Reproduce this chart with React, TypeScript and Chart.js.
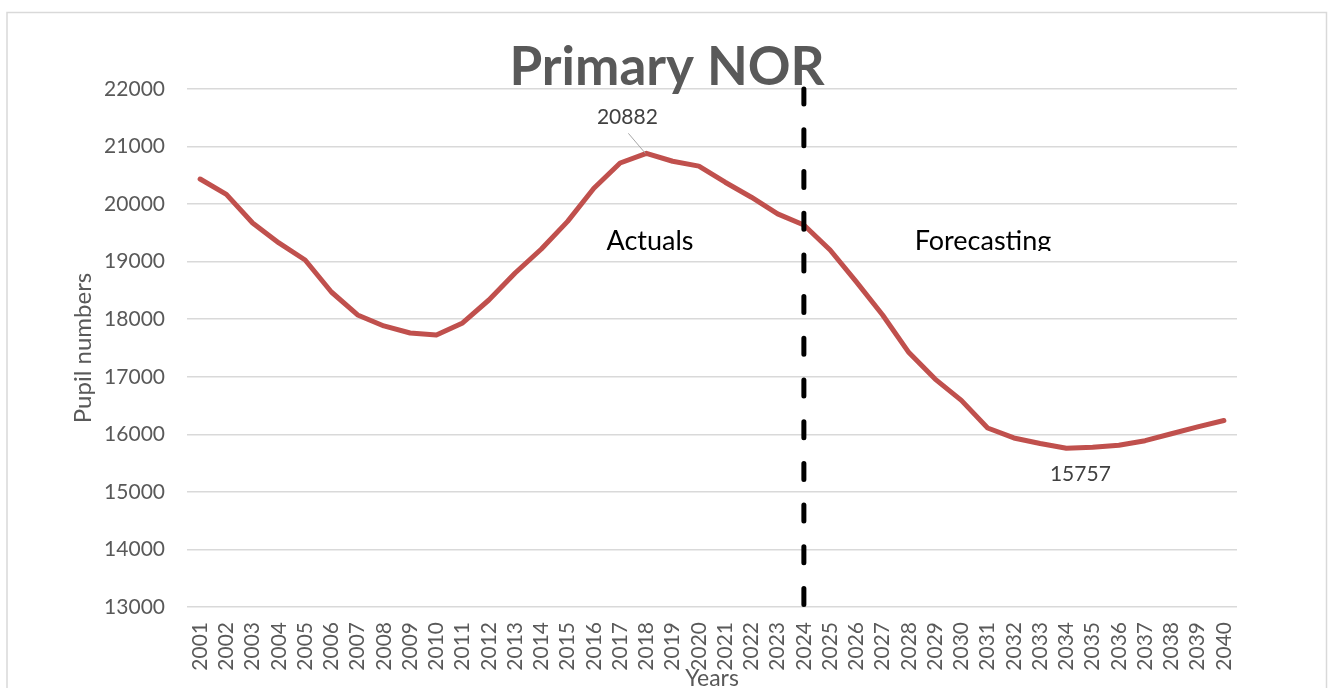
import React, { useEffect, useRef } from "react";
import { Chart, registerables } from "chart.js";

Chart.register(...registerables);

const TITLE = "Primary NOR";
const Y_TITLE = "Pupil numbers";
const X_TITLE = "Years";
const YEARS = [
  "2001", "2002", "2003", "2004", "2005", "2006", "2007", "2008", "2009", "2010",
  "2011", "2012", "2013", "2014", "2015", "2016", "2017", "2018", "2019", "2020",
  "2021", "2022", "2023", "2024", "2025", "2026", "2027", "2028", "2029", "2030",
  "2031", "2032", "2033", "2034", "2035", "2036", "2037", "2038", "2039", "2040",
];
const PUPILS = [
  20436, 20170, 19672, 19325, 19029, 18473, 18074, 17883, 17761, 17726,
  17935, 18334, 18803, 19220, 19700, 20275, 20714, 20882, 20745, 20660,
  20380, 20120, 19830, 19637, 19203, 18650, 18074, 17420, 16960, 16590,
  16110, 15937, 15840, 15757, 15775, 15810, 15890, 16010, 16130, 16240,
];
const Y_MIN = 13000;
const Y_MAX = 22000;
const Y_STEP = 1000;
const SPLIT_YEAR = "2024";
const PEAK_YEAR = "2018";
const TROUGH_YEAR = "2034";
const PHASE_LABELS = ["Actuals", "Forecasting"];

const FONT = "Lato, 'Open Sans', sans-serif";
const GREY = "#595959";

const overlayPlugin = {
  id: "overlay",
  beforeDraw(chart: any) {
    const ctx = chart.ctx;
    ctx.save();
    ctx.strokeStyle = "#d9d9d9";
    ctx.lineWidth = 1.5;
    ctx.strokeRect(7, 12.5, 1319.5, 700);
    ctx.restore();
  },
  afterDatasetsDraw(chart: any) {
    const ctx = chart.ctx;
    const xs = chart.scales.x;
    const ys = chart.scales.y;
    const area = chart.chartArea;
    ctx.save();

    // split dashed line
    const sx = xs.getPixelForValue(YEARS.indexOf(SPLIT_YEAR));
    ctx.strokeStyle = "#000000";
    ctx.lineWidth = 5;
    ctx.lineCap = "round";
    ctx.setLineDash([16, 25.7]);
    ctx.beginPath();
    ctx.moveTo(sx, area.bottom - 2.5);
    ctx.lineTo(sx, area.top);
    ctx.stroke();
    ctx.setLineDash([]);
    ctx.lineCap = "butt";

    // title
    ctx.fillStyle = GREY;
    ctx.font = `bold 53px ${FONT}`;
    ctx.textAlign = "center";
    ctx.textBaseline = "alphabetic";
    ctx.fillText(TITLE, 667, 85);

    // axis titles
    ctx.font = `23px ${FONT}`;
    ctx.fillText(X_TITLE, (area.left + area.right) / 2, 686);
    ctx.save();
    ctx.font = `24px ${FONT}`;
    ctx.translate(91, (area.top + area.bottom) / 2);
    ctx.rotate(-Math.PI / 2);
    ctx.fillText(Y_TITLE, 0, 0);
    ctx.restore();

    // data labels
    const pi = YEARS.indexOf(PEAK_YEAR);
    const px = xs.getPixelForValue(pi);
    const py = ys.getPixelForValue(PUPILS[pi]);
    ctx.strokeStyle = "#a6a6a6";
    ctx.lineWidth = 1;
    ctx.beginPath();
    ctx.moveTo(px - 18, py - 20);
    ctx.lineTo(px - 1, py);
    ctx.stroke();
    ctx.fillStyle = "#404040";
    ctx.font = `21px ${FONT}`;
    ctx.fillText(String(PUPILS[pi]), px - 19, py - 29);

    const ti = YEARS.indexOf(TROUGH_YEAR);
    const tx = xs.getPixelForValue(ti);
    const ty = ys.getPixelForValue(PUPILS[ti]);
    ctx.fillText(String(PUPILS[ti]), tx + 14, ty + 33);

    // phase labels
    ctx.fillStyle = "#000000";
    ctx.font = `27px ${FONT}`;
    ctx.fillText(PHASE_LABELS[0], 650, 250);
    ctx.save();
    ctx.beginPath();
    ctx.rect(880, 200, 220, 51);
    ctx.clip();
    ctx.fillText(PHASE_LABELS[1], 983, 250);
    ctx.restore();

    ctx.restore();
  },
};

export default function App() {
  const ref = useRef<HTMLCanvasElement | null>(null);
  useEffect(() => {
    document.body.style.margin = "0";
    const canvas = ref.current!;
    const chart = new Chart(canvas, {
      type: "line",
      data: {
        labels: YEARS,
        datasets: [
          {
            data: PUPILS,
            borderColor: "#c0504d",
            borderWidth: 5,
            pointRadius: 0,
            tension: 0,
            fill: false,
            borderJoinStyle: "round",
            borderCapStyle: "round",
          },
        ],
      },
      options: {
        animation: false,
        responsive: false,
        devicePixelRatio: 1,
        layout: { padding: { top: 89, right: 92, left: 0, bottom: 0 } },
        plugins: {
          legend: { display: false },
          title: { display: false },
          tooltip: { enabled: false },
        },
        scales: {
          x: {
            offset: true,
            grid: { display: false, drawTicks: false },
            border: { display: false },
            ticks: {
              autoSkip: false,
              minRotation: 90,
              maxRotation: 90,
              padding: 15,
              color: GREY,
              font: { family: FONT, size: 21 },
            },
            afterFit: (s: any) => {
              s.height = 81;
            },
          },
          y: {
            min: Y_MIN,
            max: Y_MAX,
            grid: { color: "#d9d9d9", lineWidth: 1.5, drawTicks: false },
            border: { display: false },
            ticks: {
              stepSize: Y_STEP,
              padding: 22,
              color: GREY,
              font: { family: FONT, size: 21 },
              callback: (v: any) => String(v),
            },
            afterFit: (s: any) => {
              s.width = 187;
            },
          },
        },
      },
      plugins: [overlayPlugin],
    });
    return () => chart.destroy();
  }, []);
  return (
    <div style={{ width: 1329, height: 688, position: "relative", background: "#fff" }}>
      <canvas ref={ref} width={1329} height={688} />
    </div>
  );
}
